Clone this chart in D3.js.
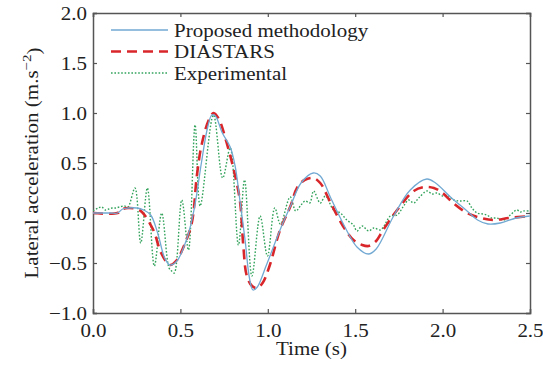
<!DOCTYPE html>
<html>
<head>
<meta charset="utf-8">
<script src="https://cdn.jsdelivr.net/npm/d3@7"></script>
<style>
  html, body { margin: 0; padding: 0; background: #fff; }
  svg text { font-family: "Liberation Serif", "Times New Roman", serif; fill: #222; }
</style>
</head>
<body>
<svg id="chart" width="543" height="365"></svg>
<script>
// Time (s) and lateral acceleration (m/s^2) for each series
const proposedT = [0, 0.10, 0.14, 0.17, 0.20, 0.25, 0.29, 0.33, 0.37, 0.41, 0.44, 0.48, 0.54, 0.58, 0.62, 0.655, 0.68, 0.70, 0.74, 0.785, 0.813, 0.84, 0.87, 0.895, 0.915, 0.94, 0.99, 1.07, 1.13, 1.19, 1.26, 1.30, 1.36, 1.45, 1.51, 1.575, 1.62, 1.72, 1.815, 1.91, 1.96, 2.045, 2.14, 2.20, 2.26, 2.33, 2.42, 2.50];
const proposedV = [0, 0, 0, 0.04, 0.05, 0.05, 0.03, -0.02, -0.20, -0.45, -0.52, -0.48, -0.24, 0.05, 0.50, 0.85, 0.98, 0.97, 0.80, 0.66, 0.47, 0.13, -0.27, -0.65, -0.77, -0.74, -0.53, -0.17, 0.07, 0.30, 0.40, 0.37, 0.15, -0.17, -0.34, -0.41, -0.36, -0.03, 0.23, 0.34, 0.30, 0.16, 0.02, -0.07, -0.11, -0.10, -0.05, -0.03];

const diastarsT = [0, 0.14, 0.17, 0.20, 0.25, 0.28, 0.345, 0.39, 0.44, 0.48, 0.52, 0.565, 0.594, 0.62, 0.66, 0.69, 0.72, 0.765, 0.80, 0.84, 0.86, 0.88, 0.91, 0.94, 0.97, 1.01, 1.07, 1.13, 1.167, 1.21, 1.26, 1.30, 1.36, 1.43, 1.49, 1.54, 1.577, 1.62, 1.66, 1.74, 1.835, 1.90, 1.95, 2.00, 2.06, 2.14, 2.22, 2.29, 2.38, 2.50];
const diastarsV = [0, 0, 0.04, 0.05, 0.04, 0.01, -0.17, -0.40, -0.52, -0.47, -0.33, -0.10, 0.37, 0.67, 0.92, 1.00, 0.94, 0.70, 0.47, 0.13, -0.33, -0.63, -0.73, -0.75, -0.70, -0.53, -0.17, 0.07, 0.25, 0.33, 0.35, 0.30, 0.10, -0.13, -0.27, -0.32, -0.33, -0.28, -0.17, 0.03, 0.22, 0.26, 0.25, 0.20, 0.10, 0.00, -0.05, -0.07, -0.05, -0.03];

const experimentalT = [0, 0.03, 0.05, 0.07, 0.09, 0.11, 0.13, 0.15, 0.18, 0.20, 0.24, 0.273, 0.311, 0.351, 0.393, 0.435, 0.45, 0.465, 0.508, 0.546, 0.584, 0.613, 0.689, 0.742, 0.785, 0.832, 0.867, 0.909, 0.956, 0.998, 1.04, 1.072, 1.128, 1.16, 1.19, 1.214, 1.24, 1.262, 1.30, 1.33, 1.376, 1.415, 1.452, 1.49, 1.51, 1.54, 1.577, 1.606, 1.644, 1.665, 1.701, 1.74, 1.777, 1.806, 1.835, 1.863, 1.911, 1.94, 1.968, 2.00, 2.025, 2.064, 2.10, 2.14, 2.168, 2.197, 2.23, 2.254, 2.28, 2.31, 2.35, 2.387, 2.425, 2.445, 2.463, 2.50];
const experimentalV = [0.02, 0.05, 0.06, 0.03, 0.04, 0.05, 0.05, 0.06, 0.07, 0.06, 0.25, -0.30, 0.25, -0.53, 0.00, -0.55, -0.58, -0.60, 0.13, -0.37, 0.88, 0.07, 0.98, 0.35, 0.65, -0.32, 0.33, -0.63, -0.03, -0.43, 0.05, -0.11, 0.16, 0.02, 0.08, 0.12, 0.10, 0.22, 0.10, 0.17, 0.03, 0.00, -0.07, -0.12, -0.18, -0.13, -0.18, -0.15, -0.17, -0.13, -0.03, -0.02, 0.07, 0.13, 0.10, 0.15, 0.22, 0.19, 0.20, 0.17, 0.18, 0.13, 0.12, 0.12, 0.05, 0.00, -0.01, -0.02, -0.05, -0.05, -0.07, -0.02, 0.03, 0.01, 0.02, 0.02];

const xTicks = [0, 0.5, 1.0, 1.5, 2.0, 2.5];
const yTicks = [-1.0, -0.5, 0.0, 0.5, 1.0, 1.5, 2.0];

const seriesNames = ["Proposed methodology", "DIASTARS", "Experimental"];

const margin = { left: 93, right: 13, top: 13, bottom: 52 };
const width = 543, height = 365;
const svg = d3.select("#chart");

const x = d3.scaleLinear().domain([0, 2.5]).range([margin.left, width - margin.right]);
const y = d3.scaleLinear().domain([-1, 2]).range([height - margin.bottom, margin.top]);

const fmt = v => (v < 0 ? "\u2212" : "") + Math.abs(v).toFixed(1);
const axisColor = "#555";
const tickLen = 4;
const fontSize = 21;      // glyph width
const squash = 0.9;       // glyphs are slightly condensed vertically

// Axes: ticks point inward on all four sides
const axes = [
  { gen: d3.axisBottom(x).tickValues(xTicks).tickSize(-tickLen).tickFormat(fmt), tr: `translate(0,${y(-1)})`, side: "bottom" },
  { gen: d3.axisTop(x).tickValues(xTicks).tickSize(-tickLen).tickFormat(""), tr: `translate(0,${y(2)})` },
  { gen: d3.axisLeft(y).tickValues(yTicks).tickSize(-tickLen).tickFormat(fmt), tr: `translate(${x(0)},0)`, side: "left" },
  { gen: d3.axisRight(y).tickValues(yTicks).tickSize(-tickLen).tickFormat(""), tr: `translate(${x(2.5)},0)` }
];
axes.forEach(a => {
  const g = svg.append("g").attr("transform", a.tr).call(a.gen);
  g.select(".domain").attr("stroke", axisColor).attr("stroke-width", 1.5);
  g.selectAll(".tick line").attr("stroke", axisColor).attr("stroke-width", 1.2);
  const t = g.selectAll(".tick text")
    .style("font-family", "Liberation Serif, serif")
    .style("font-size", fontSize + "px")
    .attr("fill", "#222")
    .attr("transform", `scale(1,${squash})`);
  if (a.side === "bottom") t.attr("y", 24 / squash).attr("dy", 0);
  if (a.side === "left") t.attr("x", -6).attr("dy", "0.33em");
});

// Clip the curves to the plot area
svg.append("clipPath").attr("id", "plot").append("rect")
  .attr("x", x(0)).attr("y", y(2)).attr("width", x(2.5) - x(0)).attr("height", y(-1) - y(2));

const line = d3.line().x(d => x(d[0])).y(d => y(d[1])).curve(d3.curveCatmullRom.alpha(0.5));
const zip = (ts, vs) => ts.map((t, i) => [t, vs[i]]);

const styles = [
  { color: "#72a9d3", width: 1.3, dash: null },
  { color: "#d9262a", width: 2.6, dash: "10,6" },
  { color: "#33a35c", width: 1.4, dash: "1.6,1.8" }
];
const data = [
  zip(proposedT, proposedV),
  zip(diastarsT, diastarsV),
  zip(experimentalT, experimentalV)
];

const plot = svg.append("g").attr("clip-path", "url(#plot)");
// Draw experimental first, then DIASTARS, then proposed on top
[2, 1, 0].forEach(i => {
  plot.append("path")
    .datum(data[i])
    .attr("d", line)
    .attr("fill", "none")
    .attr("stroke", styles[i].color)
    .attr("stroke-width", styles[i].width)
    .attr("stroke-dasharray", styles[i].dash);
});

// Legend
const legendY = [30, 51.5, 73];
seriesNames.forEach((name, i) => {
  const g = svg.append("g");
  g.append("line")
    .attr("x1", 111).attr("x2", 168)
    .attr("y1", legendY[i]).attr("y2", legendY[i])
    .attr("stroke", styles[i].color)
    .attr("stroke-width", styles[i].width)
    .attr("stroke-dasharray", styles[i].dash);
  g.append("text")
    .attr("transform", `translate(174,${legendY[i] + 6.5}) scale(1,${squash})`)
    .style("font-size", fontSize + "px")
    .text(name);
});

// Axis titles
svg.append("text")
  .attr("transform", `translate(${x(1.25)},355) scale(1,${squash})`)
  .attr("text-anchor", "middle")
  .style("font-size", fontSize + "px")
  .text("Time (s)");

const yt = svg.append("text")
  .attr("transform", `translate(37.5,${(y(2) + y(-1)) / 2}) rotate(-90) scale(1,${squash})`)
  .attr("text-anchor", "middle")
  .style("font-size", fontSize + "px");
yt.append("tspan").text("Lateral acceleration (m.s");
yt.append("tspan").attr("dy", "-0.45em").style("font-size", "15px").text("\u22122");
yt.append("tspan").attr("dy", "0.45em").text(")");
</script>
</body>
</html>
